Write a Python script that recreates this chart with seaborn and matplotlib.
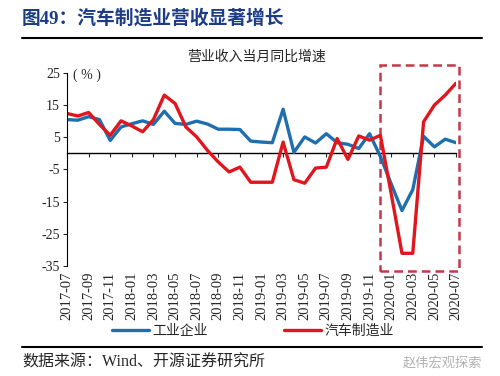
import numpy as np
import pandas as pd
import matplotlib.pyplot as plt
import seaborn as sns
from matplotlib.patches import Rectangle
from matplotlib.lines import Line2D

# monthly, 2017-07 .. 2020-07
months = pd.period_range('2017-07', '2020-07', freq='M').strftime('%Y-%m').tolist()

industry = [10.5, 10.3, 11.4, 10.5, 4.0, 8.2, 9.2, 10.1, 9.0, 13.1,
            9.3, 9.0, 10.0, 9.1, 7.5, 7.5, 7.4, 3.8, 3.5, 3.3,
            13.7, 0.3, 5.1, 3.2, 6.1, 3.3, 2.8, 1.5, 6.1, -1.0,
            -9.5, -17.8, -11.3, 5.3, 2.0, 4.4, 3.3]
auto = [12.4, 11.6, 12.7, 9.0, 5.6, 10.1, 8.5, 6.7, 10.5, 18.1,
        15.5, 8.2, 5.1, 0.9, -2.7, -5.8, -4.3, -9.0, -9.0, -9.0,
        3.5, -8.2, -9.3, -4.6, -4.3, 4.6, -1.9, 5.4, 4.1, 5.6,
        -12.5, -31.1, -31.1, 9.8, 15.0, 18.1, 21.8]

series_names = ['工业企业', '汽车制造业']
colors = ['#1f6fae', '#e0161e']

n = len(months)
df = pd.DataFrame({
    'idx': list(range(n)) * 2,
    'value': industry + auto,
    'series': [series_names[0]] * n + [series_names[1]] * n,
})

sns.set_style('ticks')
plt.rcParams['font.family'] = ['Liberation Serif', 'Noto Sans CJK SC']
plt.rcParams['axes.unicode_minus'] = False

fig = plt.figure(figsize=(5, 3.76), dpi=100)
ax = fig.add_axes([0.134, 0.293, 0.778, 0.513])
sns.lineplot(data=df, x='idx', y='value', hue='series', palette=colors,
             linewidth=2.4, ax=ax, legend=False)

ax.set_xlim(0, n - 1)
ax.set_ylim(-35, 25)
ax.set_yticks(range(-35, 26, 10))
ax.set_xticks(range(0, n, 2))
ax.set_xticklabels(months[::2], rotation=90, fontsize=10.5)
ax.tick_params(axis='x', length=0, pad=4)
ax.tick_params(axis='y', direction='out', length=3, width=0.8, labelsize=10, pad=2, left=True)
ax.set_xlabel('')
ax.set_ylabel('')
sns.despine(ax=ax, top=True, right=True, bottom=True)
ax.spines['left'].set_linewidth(0.8)
ax.spines['left'].set_color('black')

# zero line with tick marks
sec = ax.secondary_xaxis(35 / 60)
sec.set_alignment('bottom')
sec.set_xticks(range(0, n, 2))
sec.tick_params(labelbottom=False, labeltop=False, length=3, width=0.8, direction='out')
sec.spines['bottom'].set_linewidth(1)
sec.spines['bottom'].set_color('black')

# highlight box
ax.add_patch(Rectangle((29.0, -36.6), 7.3, 64.1, fill=False, edgecolor='#c4384a',
                       lw=1.8, ls=(0, (3.5, 2)), clip_on=False))

fig.text(0.146, 1 - 75 / 376, '( % )', fontsize=10, va='center')
fig.text(0.512, 1 - 57 / 376, '营业收入当月同比增速', ha='center', va='center', fontsize=10)

# header / footer
fig.text(0.044, 1 - 18 / 376, '图49：汽车制造业营收显著增长', fontsize=13.5,
         fontweight='bold', color='#1d3c87', va='center')
fig.add_artist(Line2D([0.044, 0.964], [1 - 37.5 / 376] * 2, color='black', lw=1.5))
fig.add_artist(Line2D([0.044, 0.964], [1 - 347 / 376] * 2, color='black', lw=1.5))
fig.text(0.044, 1 - 363 / 376, '数据来源：Wind、开源证券研究所', fontsize=11.5, va='center')
fig.text(0.964, 1 - 363 / 376, '赵伟宏观探索', ha='right', va='center',
         color='#b0b0b0', fontsize=9.5)

handles = [Line2D([], [], color=c, lw=2.4) for c in colors]
fig.legend(handles, series_names, loc='center', bbox_to_anchor=(0.505, 1 - 331 / 376),
           ncol=2, frameon=False, handlelength=2.7, handletextpad=0.2,
           columnspacing=5.5, fontsize=10)

fig.savefig('out.png', dpi=100)
